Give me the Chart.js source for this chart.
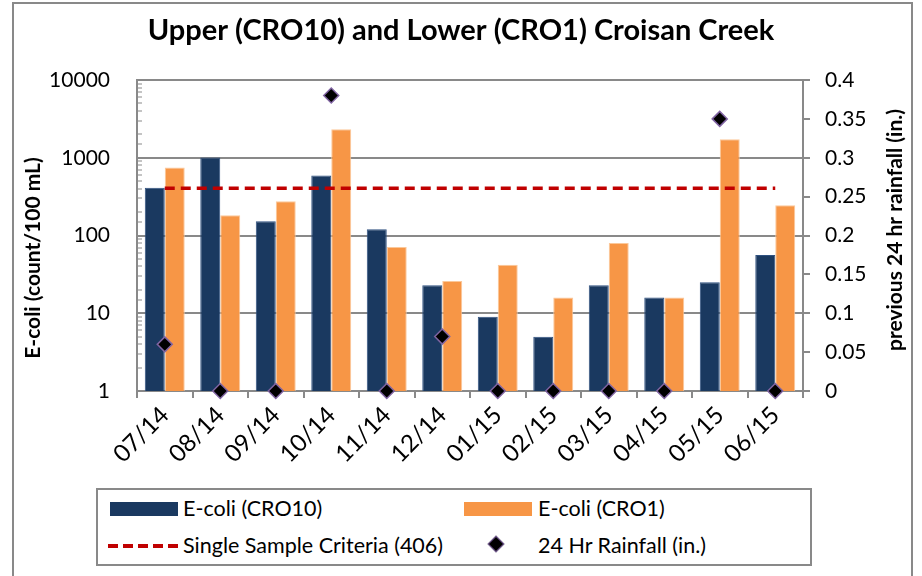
<!DOCTYPE html>
<html>
<head>
<meta charset="utf-8">
<script src="https://cdn.jsdelivr.net/npm/chart.js@4.4.1/dist/chart.umd.min.js"></script>
<style>
  html, body { margin: 0; padding: 0; background: #fff; }
  #wrap { position: relative; width: 922px; height: 576px; overflow: hidden; font-family: Lato, "Open Sans", sans-serif; }
  #frame { position: absolute; left: 12px; top: 2px; width: 897px; height: 620px; border: 2px solid #898989; }
  canvas { position: absolute; left: 0; top: 0; }
  #legend { position: absolute; left: 96px; top: 488px; width: 712px; height: 74px; border: 2px solid #898989; background: #fff; }
  .lg { position: absolute; font-size: 21.5px; line-height: 26px; color: #000; white-space: nowrap; }
  .sw { position: absolute; }
  .dia { position: absolute; width: 10px; height: 10px; background: #000; border: 1.5px solid #8064a2; transform: rotate(45deg); }
</style>
</head>
<body>
<div id="wrap">
  <div id="frame"></div>
  <canvas id="c" width="922" height="576"></canvas>
  <div id="legend"></div>
  <div class="sw" style="left:110px;top:502px;width:68px;height:14px;background:#1a3960;"></div>
  <div class="lg" id="lg0" style="left:183px;top:495px;"></div>
  <div class="sw" style="left:464px;top:502px;width:68px;height:14px;background:#f79646;"></div>
  <div class="lg" id="lg1" style="left:538px;top:495px;"></div>
  <svg class="sw" style="left:106px;top:541px;" width="74" height="10"><line x1="2" y1="5" x2="72" y2="5" stroke="#c00000" stroke-width="4" stroke-dasharray="10 5"/></svg>
  <div class="lg" id="lg2" style="left:183px;top:532px;"></div>
  <div class="dia" style="left:490px;top:538px;"></div>
  <div class="lg" id="lg3" style="left:538px;top:532px;"></div>
</div>
<script>
const chartTitle = 'Upper (CRO10) and Lower (CRO1) Croisan Creek';
const leftAxisTitle = 'E-coli (count/100 mL)';
const rightAxisTitle = 'previous 24 hr rainfall (in.)';
const categories = ['07/14','08/14','09/14','10/14','11/14','12/14','01/15','02/15','03/15','04/15','05/15','06/15'];
const ecoliCRO10 = [410, 1010, 152, 590, 120, 23, 9, 5, 23, 16, 25, 56];
const ecoliCRO1 = [750, 182, 275, 2320, 71, 26, 42, 16, 80, 16, 1730, 245];
const criteria = [406, 406, 406, 406, 406, 406, 406, 406, 406, 406, 406, 406];
const rainfall = [0.06, 0, 0, 0.38, 0, 0.07, 0, 0, 0, 0, 0.35, 0];
const leftTickLabels = ['1', '10', '100', '1000', '10000'];
const seriesNames = ['E-coli (CRO10)', 'E-coli (CRO1)', 'Single Sample Criteria (406)', '24 Hr Rainfall (in.)'];

seriesNames.forEach((n, i) => { document.getElementById('lg' + i).textContent = n; });

const GRAY = '#898989';
const FONT = 'Lato';

function isMajor(v) {
  const l = Math.log10(v);
  return Math.abs(l - Math.round(l)) < 1e-9;
}

const axisTitles = {
  id: 'axisTitles',
  afterDraw(chart) {
    const ctx = chart.ctx;
    ctx.save();
    ctx.font = 'bold 21px ' + FONT;
    ctx.fillStyle = '#000';
    ctx.textAlign = 'center';
    ctx.textBaseline = 'middle';
    ctx.translate(33, 258);
    ctx.rotate(-Math.PI / 2);
    ctx.fillText(leftAxisTitle, 0, 0);
    ctx.restore();
    ctx.save();
    ctx.font = 'bold 21px ' + FONT;
    ctx.fillStyle = '#000';
    ctx.textAlign = 'center';
    ctx.textBaseline = 'middle';
    ctx.translate(895, 230);
    ctx.rotate(-Math.PI / 2);
    ctx.fillText(rightAxisTitle, 0, 0);
    ctx.restore();
  }
};

new Chart(document.getElementById('c'), {
  data: {
    labels: categories,
    datasets: [
      {
        type: 'line', label: seriesNames[3], data: rainfall, yAxisID: 'y1',
        showLine: false, pointStyle: 'rectRot', pointRadius: 7.5, pointHoverRadius: 7.5,
        pointBackgroundColor: '#000', pointBorderColor: '#8064a2', pointBorderWidth: 1.5,
        clip: false, order: 0
      },
      {
        type: 'line', label: seriesNames[2], data: criteria, yAxisID: 'y',
        borderColor: '#c00000', borderWidth: 3.5, borderDash: [10, 6], pointRadius: 0,
        fill: false, order: 1
      },
      {
        type: 'bar', label: seriesNames[0], data: ecoliCRO10, yAxisID: 'y',
        backgroundColor: '#1a3960', borderColor: '#2f5180', borderWidth: 1,
        barPercentage: 1, categoryPercentage: 0.72, order: 2
      },
      {
        type: 'bar', label: seriesNames[1], data: ecoliCRO1, yAxisID: 'y',
        backgroundColor: '#f79646', borderColor: '#fbc89a', borderWidth: 1,
        barPercentage: 1, categoryPercentage: 0.72, order: 2
      }
    ]
  },
  options: {
    responsive: false,
    animation: false,
    devicePixelRatio: 1,
    layout: { padding: 0 },
    plugins: {
      legend: { display: false },
      tooltip: { enabled: false },
      title: {
        display: true, text: chartTitle, color: '#000',
        font: { family: FONT, size: 29, weight: 'bold', lineHeight: 1.2 },
        padding: { top: 13, bottom: 32.2 }
      }
    },
    scales: {
      x: {
        type: 'category', offset: true,
        grid: { offset: true, drawOnChartArea: false, color: GRAY, tickColor: GRAY, tickLength: 7, lineWidth: 2 },
        border: { color: GRAY, width: 2 },
        ticks: { font: { family: FONT, size: 24 }, color: '#000', maxRotation: 45, minRotation: 45, padding: 3, autoSkip: false },
        afterFit(s) { s.height = 185; }
      },
      y: {
        type: 'logarithmic', position: 'left', min: 1, max: 10000,
        grid: {
          color: (c) => (c.tick && isMajor(c.tick.value)) ? GRAY : 'rgba(0,0,0,0)',
          tickColor: GRAY,
          lineWidth: 2,
          tickWidth: (c) => (c.tick && isMajor(c.tick.value)) ? 2 : 1,
          tickLength: -5
        },
        border: { color: GRAY, width: 2 },
        ticks: {
          autoSkip: false, font: { family: FONT, size: 21 }, color: '#000', padding: 32,
          callback: (v) => leftTickLabels.includes(String(v)) ? String(v) : ''
        },
        afterFit(s) { s.width = 137; }
      },
      y1: {
        type: 'linear', position: 'right', min: 0, max: 0.4,
        grid: { drawOnChartArea: false, color: GRAY, tickColor: GRAY, tickLength: 7, lineWidth: 2 },
        border: { color: GRAY, width: 2 },
        ticks: {
          stepSize: 0.05, font: { family: FONT, size: 21 }, color: '#000', padding: 15,
          callback: (v) => String(+Number(v).toFixed(2))
        },
        afterFit(s) { s.width = 119; }
      }
    }
  },
  plugins: [axisTitles]
});
</script>
</body>
</html>
